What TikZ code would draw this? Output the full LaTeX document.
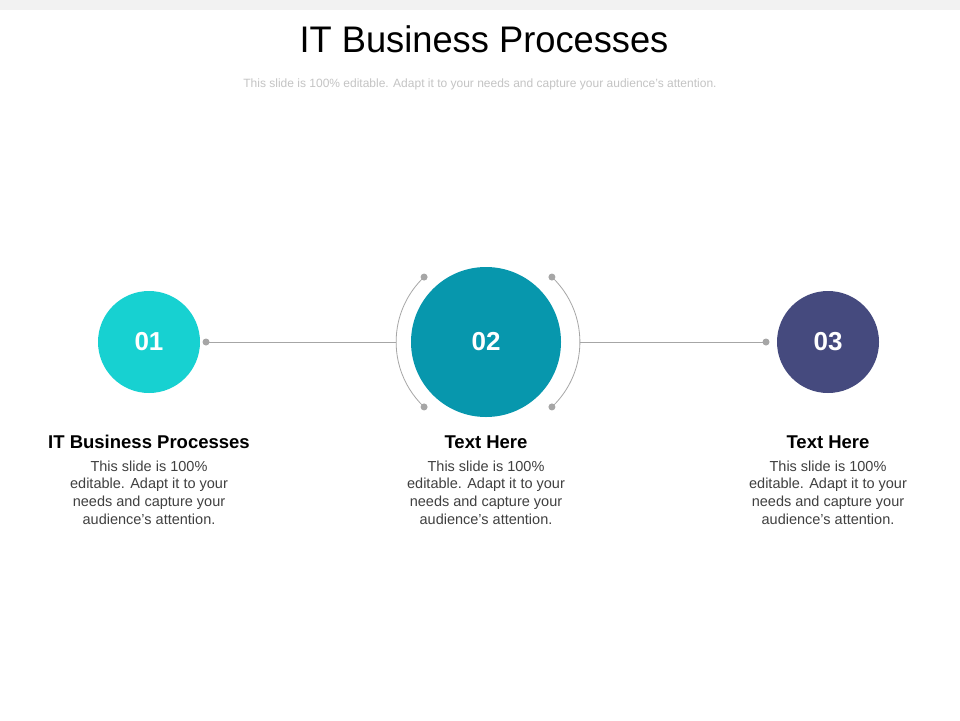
\documentclass[tikz,border=0pt]{standalone}
\usepackage{fontspec}
\setmainfont{Liberation Sans}
\usetikzlibrary{calc}
\definecolor{topbar}{HTML}{F2F2F2}
\definecolor{cone}{HTML}{17D1D1}
\definecolor{ctwo}{HTML}{0797AD}
\definecolor{cthree}{HTML}{454A7E}
\definecolor{linegray}{HTML}{A6A6A6}
\definecolor{dotgray}{HTML}{A6A6A6}
\definecolor{bodygray}{HTML}{404040}
\definecolor{subgray}{HTML}{C4C4C4}
\tikzset{
  numcircle/.style={circle, minimum size=#1, inner sep=0pt, text=white, font=\bfseries\fontsize{26}{30}\selectfont},
  heading/.style={font=\bfseries\fontsize{18.5}{22}\selectfont, text=black, inner sep=0pt},
  bodytext/.style={font=\fontsize{14.5}{17.7}\selectfont, text=bodygray, align=center, inner sep=0pt, anchor=north},
  conn/.style={draw=linegray, line width=0.8pt},
  dotmark/.style={circle, fill=dotgray, minimum size=7pt, inner sep=0pt},
}
\begin{document}
\begin{tikzpicture}[x=1pt,y=-1pt]
\useasboundingbox (0,0) rectangle (960,720);
\fill[white] (0,0) rectangle (960,720);
\fill[topbar] (0,0) rectangle (960,10);
\node[font=\fontsize{37}{42}\selectfont, inner sep=0pt, xscale=0.98] (title) at (484,39) {IT Business Processes};
\node[font=\fontsize{12}{14}\selectfont, text=subgray, inner sep=0pt] (subtitle) at (480,84) {This slide is 100\% editable. Adapt it to your needs and capture your audience's attention.};
% circles
\node[numcircle=102pt, fill=cone] (c1) at (149,342) {01};
\node[numcircle=150pt, fill=ctwo] (c2) at (486,342) {02};
\node[numcircle=102pt, fill=cthree] (c3) at (828,342) {03};
% arcs around c2
\coordinate (acl) at ($(c2.center)+(-0.5,0)$);
\coordinate (acr) at ($(c2.center)+(4.5,0)$);
\coordinate (al) at ($(acl)+(-89.4,0)$);
\coordinate (ar) at ($(acr)+(89.4,0)$);
\draw[conn] ($(acl)+(133.4:89.4)$) coordinate (alt) arc[start angle=133.4, end angle=226.6, radius=89.4] coordinate (alb);
\draw[conn] ($(acr)+(-46.6:89.4)$) coordinate (arb) arc[start angle=-46.6, end angle=46.6, radius=89.4] coordinate (art);
% dots
\node[dotmark] (d1) at (206,342) {};
\node[dotmark] (d3) at (766,342) {};
\node[dotmark] at (alt) {};
\node[dotmark] at (alb) {};
\node[dotmark] at (art) {};
\node[dotmark] at (arb) {};
% connectors
\draw[conn] (d1.center) -- (al);
\draw[conn] (ar) -- (d3.center);
% texts
\node[heading] (h1) at (149,442) {IT Business Processes};
\node[heading] (h2) at (486,442) {Text Here};
\node[heading] (h3) at (828,442) {Text Here};
\node[bodytext] (b1) at (149,460.5) {This slide is 100\%\\editable. Adapt it to your\\needs and capture your\\audience's attention.};
\node[bodytext] (b2) at (486,460.5) {This slide is 100\%\\editable. Adapt it to your\\needs and capture your\\audience's attention.};
\node[bodytext] (b3) at (828,460.5) {This slide is 100\%\\editable. Adapt it to your\\needs and capture your\\audience's attention.};
\end{tikzpicture}
\end{document}
